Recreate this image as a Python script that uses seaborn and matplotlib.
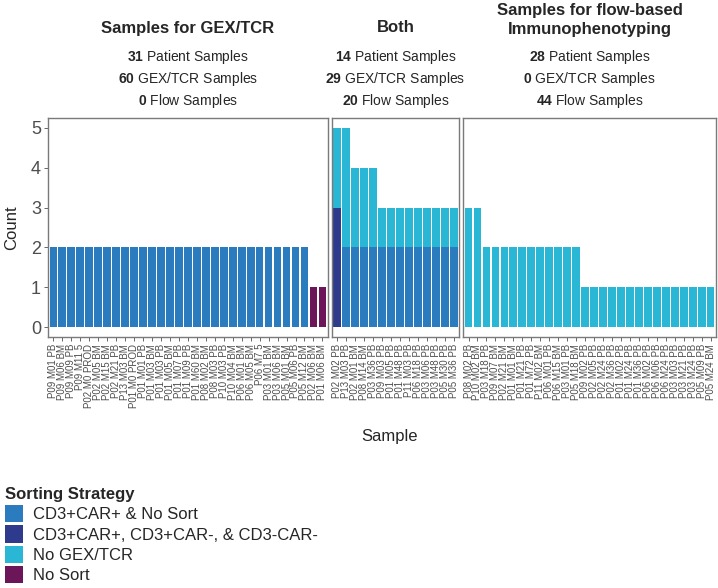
import matplotlib
matplotlib.use("Agg")
import numpy as np
import pandas as pd
import matplotlib.pyplot as plt
import seaborn as sns
from matplotlib.patches import Patch

# sorting strategies (legend order) and their fill colours
strategies = ["CD3+CAR+ & No Sort", "CD3+CAR+, CD3+CAR-, & CD3-CAR-", "No GEX/TCR", "No Sort"]
strategy_colors = ["#2b7bbf", "#2e3a8c", "#2ab6d5", "#6c1559"]
# seaborn puts the first hue level on top of the stack
stack_order = ["No GEX/TCR", "CD3+CAR+ & No Sort", "CD3+CAR+, CD3+CAR-, & CD3-CAR-", "No Sort"]

# panel 1: samples for GEX/TCR
gex_samples = ["P09 M01 PB", "P09 M06 BM", "P09 M09 PB", "P09 M11 5", "P02 M0 PROD", "P02 M05 BM",
               "P02 M15 BM", "P02 M21 PB", "P13 M03 BM", "P01 M0 PROD", "P01 M01 PB", "P01 M03 BM",
               "P01 M03 PB", "P01 M05 BM", "P01 M07 PB", "P01 M09 PB", "P01 M60 BM", "P08 M02 BM",
               "P08 M03 PB", "P10 M03 PB", "P10 M04 BM", "P06 M01 BM", "P06 M05 BM", "P06 M7 5",
               "P03 M01 BM", "P03 M06 BM", "P05 M01 BM", "P05 M06 PB", "P05 M12 BM", "P02 M06 BM",
               "P01 M06 BM"]
gex_car = [2, 2, 2, 2, 2, 2, 2, 2, 2, 2, 2, 2, 2, 2, 2, 2, 2, 2, 2, 2, 2, 2, 2, 2, 2, 2, 2, 2, 2, 0, 0]
gex_triple = [0, 0, 0, 0, 0, 0, 0, 0, 0, 0, 0, 0, 0, 0, 0, 0, 0, 0, 0, 0, 0, 0, 0, 0, 0, 0, 0, 0, 0, 0, 0]
gex_nogex = [0, 0, 0, 0, 0, 0, 0, 0, 0, 0, 0, 0, 0, 0, 0, 0, 0, 0, 0, 0, 0, 0, 0, 0, 0, 0, 0, 0, 0, 0, 0]
gex_nosort = [0, 0, 0, 0, 0, 0, 0, 0, 0, 0, 0, 0, 0, 0, 0, 0, 0, 0, 0, 0, 0, 0, 0, 0, 0, 0, 0, 0, 0, 1, 1]

# panel 2: both
both_samples = ["P02 M02 PB", "P13 M03 PB", "P02 M01 BM", "P08 M14 BM", "P03 M36 PB", "P09 M03 PB",
                "P01 M05 PB", "P01 M48 PB", "P11 M03 PB", "P06 M18 PB", "P03 M06 PB", "P03 M48 PB",
                "P05 M30 PB", "P05 M36 PB"]
both_car = [0, 2, 2, 2, 2, 2, 2, 2, 2, 2, 2, 2, 2, 2]
both_triple = [3, 0, 0, 0, 0, 0, 0, 0, 0, 0, 0, 0, 0, 0]
both_nogex = [2, 3, 2, 2, 2, 1, 1, 1, 1, 1, 1, 1, 1, 1]
both_nosort = [0, 0, 0, 0, 0, 0, 0, 0, 0, 0, 0, 0, 0, 0]

# panel 3: samples for flow-based immunophenotyping
flow_samples = ["P08 M02 PB", "P10 M02 BM", "P03 M18 PB", "P09 M07 BM", "P02 M21 BM", "P01 M01 BM",
                "P01 M21 PB", "P01 M72 PB", "P11 M02 BM", "P06 M01 PB", "P06 M15 BM", "P03 M01 PB",
                "P05 M18 BM", "P09 M02 PB", "P02 M05 PB", "P02 M24 PB", "P02 M36 PB", "P01 M02 PB",
                "P01 M24 PB", "P01 M36 PB", "P06 M02 PB", "P06 M06 PB", "P06 M24 PB", "P03 M03 PB",
                "P03 M21 PB", "P03 M24 PB", "P05 M09 PB", "P05 M24 BM"]
flow_car = [0, 0, 0, 0, 0, 0, 0, 0, 0, 0, 0, 0, 0, 0, 0, 0, 0, 0, 0, 0, 0, 0, 0, 0, 0, 0, 0, 0]
flow_triple = [0, 0, 0, 0, 0, 0, 0, 0, 0, 0, 0, 0, 0, 0, 0, 0, 0, 0, 0, 0, 0, 0, 0, 0, 0, 0, 0, 0]
flow_nogex = [3, 3, 2, 2, 2, 2, 2, 2, 2, 2, 2, 2, 2, 1, 1, 1, 1, 1, 1, 1, 1, 1, 1, 1, 1, 1, 1, 1]
flow_nosort = [0, 0, 0, 0, 0, 0, 0, 0, 0, 0, 0, 0, 0, 0, 0, 0, 0, 0, 0, 0, 0, 0, 0, 0, 0, 0, 0, 0]

# panel headers
panel_titles = ["Samples for GEX/TCR", "Both", "Samples for flow-based\nImmunophenotyping"]
patient_counts = [31, 14, 28]
gex_counts = [60, 29, 0]
flow_counts = [0, 20, 44]

panels = [
    (gex_samples, [gex_car, gex_triple, gex_nogex, gex_nosort]),
    (both_samples, [both_car, both_triple, both_nogex, both_nosort]),
    (flow_samples, [flow_car, flow_triple, flow_nogex, flow_nosort]),
]

sns.set_theme(style="white")
plt.rcParams['font.family'] = ['Liberation Sans', 'DejaVu Sans']
plt.rcParams['mathtext.fontset'] = 'custom'
plt.rcParams['mathtext.rm'] = 'Liberation Sans'
plt.rcParams['mathtext.bf'] = 'Liberation Sans:bold'

W, H = 718, 588
fig = plt.figure(figsize=(W / 100, H / 100), dpi=100)
palette = dict(zip(strategies, strategy_colors))

left_px, right_px, gap_px = 48, 716, 4
top_px, bottom_px = 118, 337
units = [len(s) + 0.2 for s, _ in panels]
unit_px = (right_px - left_px - gap_px * (len(panels) - 1)) / sum(units)

x0 = left_px
for i, (samples, counts) in enumerate(panels):
    w = units[i] * unit_px
    ax = fig.add_axes([x0 / W, 1 - bottom_px / H, w / W, (bottom_px - top_px) / H])
    rows = []
    for strat, vals in zip(strategies, counts):
        for pos, (s, v) in enumerate(zip(samples, vals)):
            rows.append({"pos": pos, "sample": s, "strategy": strat, "count": v})
    df = pd.DataFrame(rows)
    sns.histplot(data=df, x="pos", weights="count", hue="strategy", hue_order=stack_order,
                 palette=palette, multiple="stack", discrete=True, shrink=0.86,
                 edgecolor="none", linewidth=0, alpha=1, legend=False, ax=ax)
    ax.set_xlim(-0.6, len(samples) - 0.4)
    ax.set_ylim(-0.25, 5.25)
    ax.set_xticks(range(len(samples)))
    ax.set_xticklabels(samples, rotation=90, fontsize=7, color="#4d4d4d")
    ax.set_yticks([0, 1, 2, 3, 4, 5])
    ax.set_xlabel("")
    ax.set_ylabel("")
    ax.tick_params(axis="x", length=3, width=0.6, color="#4d4d4d", pad=2, bottom=True)
    if i == 0:
        ax.tick_params(axis="y", length=3, width=0.6, color="#4d4d4d", labelsize=13,
                       labelcolor="#4d4d4d", pad=2, left=True)
    else:
        ax.tick_params(axis="y", left=False, labelleft=False)
    for sp in ax.spines.values():
        sp.set_color("#7a7a7a")
        sp.set_linewidth(1.0)

    # header above each panel
    cx = (x0 + w / 2) / W
    if "\n" in panel_titles[i]:
        fig.text(cx, 1 - 20 / H, panel_titles[i], ha="center", va="center",
                 fontsize=12, fontweight="bold", linespacing=1.3)
    else:
        fig.text(cx, 1 - 28 / H, panel_titles[i], ha="center", va="center",
                 fontsize=12, fontweight="bold")
    fig.text(cx, 1 - 57 / H, rf"$\mathbf{{{patient_counts[i]}}}$ Patient Samples",
             ha="center", va="center", fontsize=10)
    fig.text(cx, 1 - 79 / H, rf"$\mathbf{{{gex_counts[i]}}}$ GEX/TCR Samples",
             ha="center", va="center", fontsize=10)
    fig.text(cx, 1 - 101 / H, rf"$\mathbf{{{flow_counts[i]}}}$ Flow Samples",
             ha="center", va="center", fontsize=10)
    x0 += w + gap_px

fig.text(12 / W, 1 - (top_px + bottom_px) / 2 / H, "Count", rotation=90,
         ha="center", va="center", fontsize=12)
fig.text(390 / W, 1 - 437 / H, "Sample", ha="center", va="center", fontsize=12)

handles = [Patch(facecolor=c, edgecolor="none") for c in strategy_colors]
fig.legend(handles, strategies, loc="upper left", bbox_to_anchor=(5 / W, 1 - 487 / H),
           frameon=False, title="Sorting Strategy",
           title_fontproperties={"weight": "bold", "size": 12}, fontsize=12,
           handlelength=1.1, handleheight=1.2, labelspacing=0.19, handletextpad=0.6,
           borderpad=0, borderaxespad=0, alignment="left")

fig.savefig("out.png", dpi=100)
